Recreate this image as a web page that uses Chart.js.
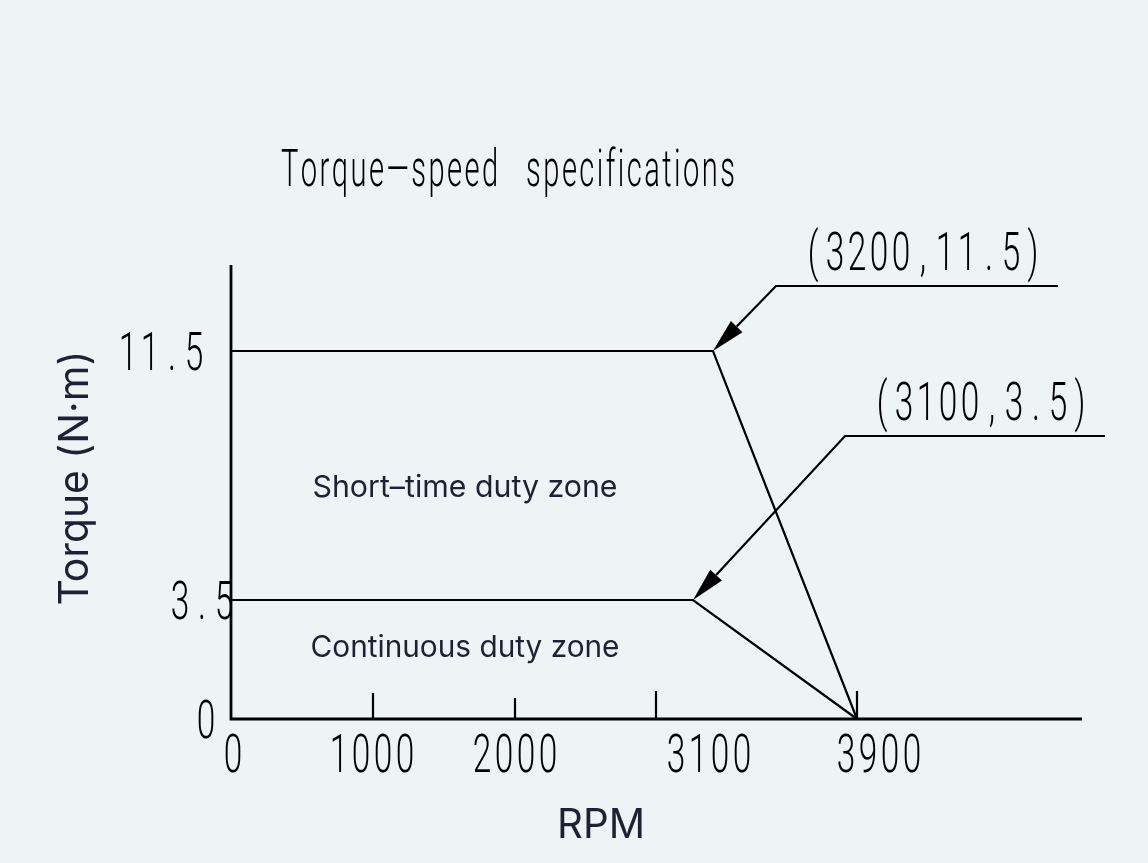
<!DOCTYPE html>
<html><head><meta charset="utf-8">
<script src="https://cdn.jsdelivr.net/npm/chart.js@4.4.1/dist/chart.umd.min.js"></script>
<style>html,body{margin:0;padding:0;background:#eef3f6;}canvas{display:block}</style>
</head><body>
<canvas id="c" width="1148" height="863"></canvas>
<script>
// ---------- data ----------
const titleText = 'Torque—speed specifications';
const xAxisTitle = 'RPM';
const yAxisTitle = 'Torque (N·m)';
const shortRpm = [0, 3200, 3900];
const shortTorque = [11.5, 11.5, 0];
const contRpm = [0, 3100, 3900];
const contTorque = [3.5, 3.5, 0];
const xTickMarks = [1000, 2000, 3000, 3900];
const xTickLabels = ['0', '1000', '2000', '3100', '3900'];
const xTickLabelValues = [0, 1000, 2000, 3100, 3900];
const yTickLabels = ['0', '3.5', '11.5'];
const yTickValues = [0, 3.5, 11.5];
const zoneNames = ['Short–time duty zone', 'Continuous duty zone'];
const calloutRpm = [3200, 3100];
const calloutTorque = [11.5, 3.5];

// ---------- schematic (non-uniform) axis layout: [value, fraction of axis] ----------
const X_KNOTS = [[0,0],[1000,0.1669],[2000,0.3337],[3000,0.4994],[3100,0.5429],[3200,0.5664],[3900,0.7356],[5000,1]];
const Y_KNOTS = [[0,0],[3.5,0.2621],[11.5,0.8106],[14.2,1]];

// ---------- styles ----------
const STYLE = {
  bg: '#eef3f6',
  ink: '#000000',
  sansInk: '#1c2233',
  sansFont: 'Inter, "Noto Sans", sans-serif',
  cadFont: '300 53px Roboto, "DejaVu Sans", sans-serif',
  cadTitleFont: '300 52px Roboto, "DejaVu Sans", sans-serif',
  cadScaleX: 0.63,
  titleScaleX: 0.56,
  titleSpaceExtra: 16,
  cell: 22,
  axisWidth: 2.8,
  lineWidth: 2.2,
  tickLens: [26, 21, 28, 28],
  xLabelShift: [2, -1, 0, 16, 22],
  xLabelBaseline: 772,
  yLabelRightShift: [-14, 4, -26],
  yLabelBaselineOffset: 19,
  callouts: [{dx: 63, dy: -65}, {dx: 152, dy: -164}],
  calloutTextGap: 26, calloutLineExtra: 14, calloutBaselineOffset: -16,
  arrowLen: 34, arrowHalf: 8,
  title: {left: 281, baseline: 186, width: 454},
  zones: [{cx: 465, baseline: 497, width: 305}, {cx: 465, baseline: 657, width: 309}],
  xTitle: {cx: 601, baseline: 838, width: 88},
  yTitle: {cy: 478, baselineX: 88, width: 255}
};

// ---------- custom piecewise-linear scale ----------
function mapKnots(k, v, from, to) {
  let i = 1;
  while (i < k.length - 1 && v > k[i][from]) i++;
  const a = k[i - 1], b = k[i];
  const t = (v - a[from]) / (b[from] - a[from]);
  return a[to] + t * (b[to] - a[to]);
}
class PiecewiseScale extends Chart.LinearScale {
  _knots() { return this.axis === 'x' ? X_KNOTS : Y_KNOTS; }
  getPixelForValue(value) {
    return this.getPixelForDecimal(mapKnots(this._knots(), value, 0, 1));
  }
  getValueForPixel(pixel) {
    return mapKnots(this._knots(), this.getDecimalForPixel(pixel), 1, 0);
  }
}
PiecewiseScale.id = 'piecewise';
PiecewiseScale.defaults = Chart.LinearScale.defaults;
Chart.register(PiecewiseScale);

// ---------- text helpers ----------
function cadText(ctx, text, left, baseline) {
  ctx.save();
  ctx.font = STYLE.cadFont; ctx.fillStyle = STYLE.ink;
  ctx.textAlign = 'center'; ctx.textBaseline = 'alphabetic';
  [...text].forEach((ch, i) => {
    ctx.save();
    ctx.translate(left + STYLE.cell * (i + 0.5), baseline);
    ctx.scale(STYLE.cadScaleX, 1);
    ctx.fillText(ch, 0, 0);
    ctx.restore();
  });
  ctx.restore();
}
// condensed, letter-spaced text fitted to a width
function cadSpaced(ctx, text, left, baseline, width) {
  ctx.save();
  ctx.font = STYLE.cadTitleFont; ctx.fillStyle = STYLE.ink;
  ctx.textAlign = 'left'; ctx.textBaseline = 'alphabetic';
  const chars = [...text];
  const widths = chars.map(ch => ctx.measureText(ch).width * STYLE.titleScaleX + (ch === ' ' ? STYLE.titleSpaceExtra : 0));
  const total = widths.reduce((a, b) => a + b, 0);
  const gap = (width - total) / (chars.length - 1);
  let x = left;
  chars.forEach((ch, i) => {
    ctx.save(); ctx.translate(x, baseline); ctx.scale(STYLE.titleScaleX, 1);
    ctx.fillText(ch, 0, 0); ctx.restore();
    x += widths[i] + gap;
  });
  ctx.restore();
}
function sansFit(ctx, text, width) {
  ctx.font = '400 40px ' + STYLE.sansFont;
  const w = ctx.measureText(text).width;
  const size = 40 * width / w;
  ctx.font = '400 ' + size.toFixed(2) + 'px ' + STYLE.sansFont;
}

const drawPlugin = {
  id: 'schematic',
  beforeDraw(chart) {
    const ctx = chart.ctx;
    ctx.save(); ctx.fillStyle = STYLE.bg; ctx.fillRect(0, 0, chart.width, chart.height); ctx.restore();
  },
  afterDatasetsDraw(chart) {
    const ctx = chart.ctx, xs = chart.scales.x, ys = chart.scales.y;
    ctx.save();
    ctx.strokeStyle = STYLE.ink; ctx.fillStyle = STYLE.ink; ctx.lineCap = 'butt';
    // axes
    ctx.lineWidth = STYLE.axisWidth;
    ctx.beginPath();
    ctx.moveTo(xs.left, ys.top); ctx.lineTo(xs.left, ys.bottom); ctx.lineTo(xs.right, ys.bottom);
    ctx.stroke();
    // tick marks
    ctx.lineWidth = STYLE.lineWidth;
    xTickMarks.forEach((v, i) => {
      const px = Math.round(xs.getPixelForValue(v));
      ctx.beginPath(); ctx.moveTo(px, ys.bottom); ctx.lineTo(px, ys.bottom - STYLE.tickLens[i]); ctx.stroke();
    });
    // x tick labels
    xTickLabels.forEach((t, i) => {
      const cx = xs.getPixelForValue(xTickLabelValues[i]) + STYLE.xLabelShift[i];
      cadText(ctx, t, cx - t.length * STYLE.cell / 2, STYLE.xLabelBaseline);
    });
    // y tick labels
    yTickLabels.forEach((t, i) => {
      const right = xs.left + STYLE.yLabelRightShift[i];
      const py = ys.getPixelForValue(yTickValues[i]);
      cadText(ctx, t, right - t.length * STYLE.cell, py + STYLE.yLabelBaselineOffset);
    });
    // callouts
    calloutRpm.forEach((rpm, i) => {
      const tx = xs.getPixelForValue(rpm), ty = ys.getPixelForValue(calloutTorque[i]);
      const ex = tx + STYLE.callouts[i].dx, ey = ty + STYLE.callouts[i].dy;
      const label = '(' + rpm + ',' + calloutTorque[i] + ')';
      const textLeft = ex + STYLE.calloutTextGap;
      const lineEnd = textLeft + label.length * STYLE.cell + STYLE.calloutLineExtra;
      const len = Math.hypot(tx - ex, ty - ey);
      const ux = (tx - ex) / len, uy = (ty - ey) / len;
      const bx = tx - ux * STYLE.arrowLen, by = ty - uy * STYLE.arrowLen;
      ctx.lineWidth = STYLE.lineWidth;
      ctx.beginPath(); ctx.moveTo(lineEnd, ey); ctx.lineTo(ex, ey); ctx.lineTo(bx, by); ctx.stroke();
      ctx.beginPath();
      ctx.moveTo(tx, ty);
      ctx.lineTo(bx - uy * STYLE.arrowHalf, by + ux * STYLE.arrowHalf);
      ctx.lineTo(bx + uy * STYLE.arrowHalf, by - ux * STYLE.arrowHalf);
      ctx.closePath(); ctx.fill();
      cadText(ctx, label, textLeft, ey + STYLE.calloutBaselineOffset);
    });
    // title (CAD style, condensed and letter-spaced)
    cadSpaced(ctx, titleText, STYLE.title.left, STYLE.title.baseline, STYLE.title.width);
    // zone labels
    ctx.fillStyle = STYLE.sansInk; ctx.textAlign = 'center'; ctx.textBaseline = 'alphabetic';
    zoneNames.forEach((z, i) => {
      const s = STYLE.zones[i];
      sansFit(ctx, z, s.width);
      ctx.fillText(z, s.cx, s.baseline);
    });
    // axis titles
    sansFit(ctx, xAxisTitle, STYLE.xTitle.width);
    ctx.fillText(xAxisTitle, STYLE.xTitle.cx, STYLE.xTitle.baseline);
    sansFit(ctx, yAxisTitle, STYLE.yTitle.width);
    ctx.save(); ctx.translate(STYLE.yTitle.baselineX, STYLE.yTitle.cy); ctx.rotate(-Math.PI / 2);
    ctx.fillText(yAxisTitle, 0, 0); ctx.restore();
    ctx.restore();
  }
};

const toPoints = (xsArr, ysArr) => xsArr.map((x, i) => ({x, y: ysArr[i]}));

new Chart(document.getElementById('c').getContext('2d'), {
  type: 'scatter',
  data: {
    datasets: [
      {label: 'Short-time duty', data: toPoints(shortRpm, shortTorque), showLine: true,
       borderColor: STYLE.ink, borderWidth: STYLE.lineWidth, pointRadius: 0, tension: 0, fill: false, clip: false},
      {label: 'Continuous duty', data: toPoints(contRpm, contTorque), showLine: true,
       borderColor: STYLE.ink, borderWidth: STYLE.lineWidth, pointRadius: 0, tension: 0, fill: false, clip: false}
    ]
  },
  options: {
    responsive: false, animation: false, devicePixelRatio: 1, events: [],
    layout: {padding: {left: 231, right: 66, top: 265, bottom: 144}},
    plugins: {legend: {display: false}, tooltip: {enabled: false}, title: {display: false}},
    scales: {
      x: {type: 'piecewise', min: 0, max: 5000, display: false},
      y: {type: 'piecewise', min: 0, max: 14.2, display: false}
    }
  },
  plugins: [drawPlugin]
});
</script>
</body></html>
